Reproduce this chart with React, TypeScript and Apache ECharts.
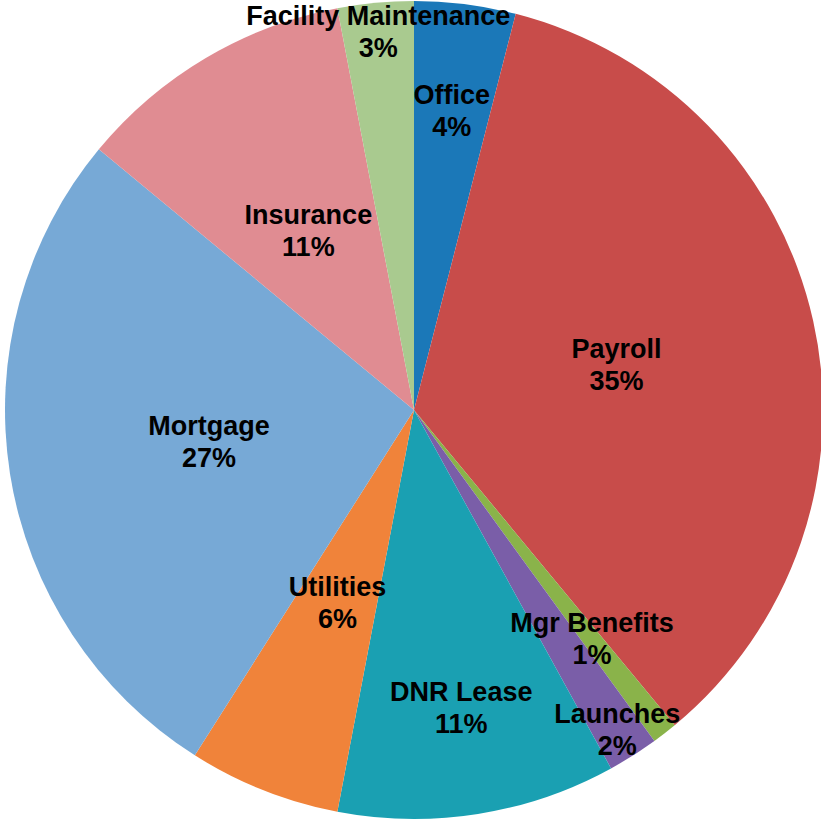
import React, { useEffect, useRef } from "react";
import * as echarts from "echarts";

const categories = [
  "Office",
  "Payroll",
  "Mgr Benefits",
  "Launches",
  "DNR Lease",
  "Utilities",
  "Mortgage",
  "Insurance",
  "Facility Maintenance",
];
const values = [4, 35, 1, 2, 11, 6, 27, 11, 3];
const colors = [
  "#1b78b8",
  "#c84c4a",
  "#8ab34a",
  "#7a5ea8",
  "#1aa0b2",
  "#f0833a",
  "#77a9d6",
  "#e08c92",
  "#a9ca8f",
];

// label ring assignment (style): which ring each label sits on
const innerLabels = ["Payroll", "Utilities", "Mortgage", "Insurance"];
const middleLabels = ["Office", "DNR Lease"];
const outerLabels = ["Facility Maintenance", "Launches"];
const freeLabels = ["Mgr Benefits"];

export default function App() {
  const ref = useRef<HTMLDivElement>(null);
  useEffect(() => {
    if (!ref.current) return;
    const chart = echarts.init(ref.current, undefined, { renderer: "svg" });
    const R = 409;
    const cx = 414;
    const cy = 410;
    const fontFamily = "Liberation Sans, Arial, sans-serif";
    const fontSize = 27;
    const lineHeight = 32;
    const total = values.reduce((a, b) => a + b, 0);
    const labelStyle = {
      position: "inside",
      color: "#000",
      fontFamily,
      fontWeight: "bold",
      fontSize,
      lineHeight,
      formatter: (p: any) => `${p.name}\n${Math.round(p.percent)}%`,
    };
    const makeData = (names: string[], visible: boolean) =>
      categories.map((c, i) => ({
        name: c,
        value: values[i],
        itemStyle: visible
          ? { color: colors[i] }
          : { color: "rgba(0,0,0,0)" },
        label: { show: names.includes(c) },
      }));
    const base = {
      type: "pie",
      center: [cx, cy],
      startAngle: 90,
      clockwise: true,
      avoidLabelOverlap: false,
      minShowLabelAngle: 0,
      labelLine: { show: false },
      labelLayout: { hideOverlap: false },
      emphasis: { disabled: true },
      itemStyle: { borderWidth: 0 },
      label: labelStyle,
    };
    // labels for very thin slices, placed at the slice's mid-angle
    const graphics = freeLabels.map((name) => {
      const idx = categories.indexOf(name);
      const before = values.slice(0, idx).reduce((a, b) => a + b, 0);
      const mid = ((before + values[idx] / 2) / total) * Math.PI * 2;
      const rho = R * 0.71;
      return {
        type: "text",
        x: cx + rho * Math.sin(mid),
        y: cy - rho * Math.cos(mid),
        z: 100,
        style: {
          text: `${name}\n${Math.round((values[idx] / total) * 100)}%`,
          fill: "#000",
          font: `bold ${fontSize}px ${fontFamily}`,
          lineHeight,
          align: "center",
          verticalAlign: "middle",
        },
      };
    });
    chart.setOption({
      animation: false,
      graphic: graphics,
      series: [
        { ...base, radius: [0, R], data: makeData(innerLabels, true) },
        {
          ...base,
          silent: true,
          radius: [Math.round(R * 0.46), R],
          data: makeData(middleLabels, false),
        },
        {
          ...base,
          silent: true,
          radius: [Math.round(R * 0.84), R],
          data: makeData(outerLabels, false),
        },
      ],
    });
    return () => chart.dispose();
  }, []);
  return (
    <div
      ref={ref}
      style={{
        position: "fixed",
        left: 0,
        top: 0,
        width: 821,
        height: 820,
        background: "#fff",
      }}
    />
  );
}
